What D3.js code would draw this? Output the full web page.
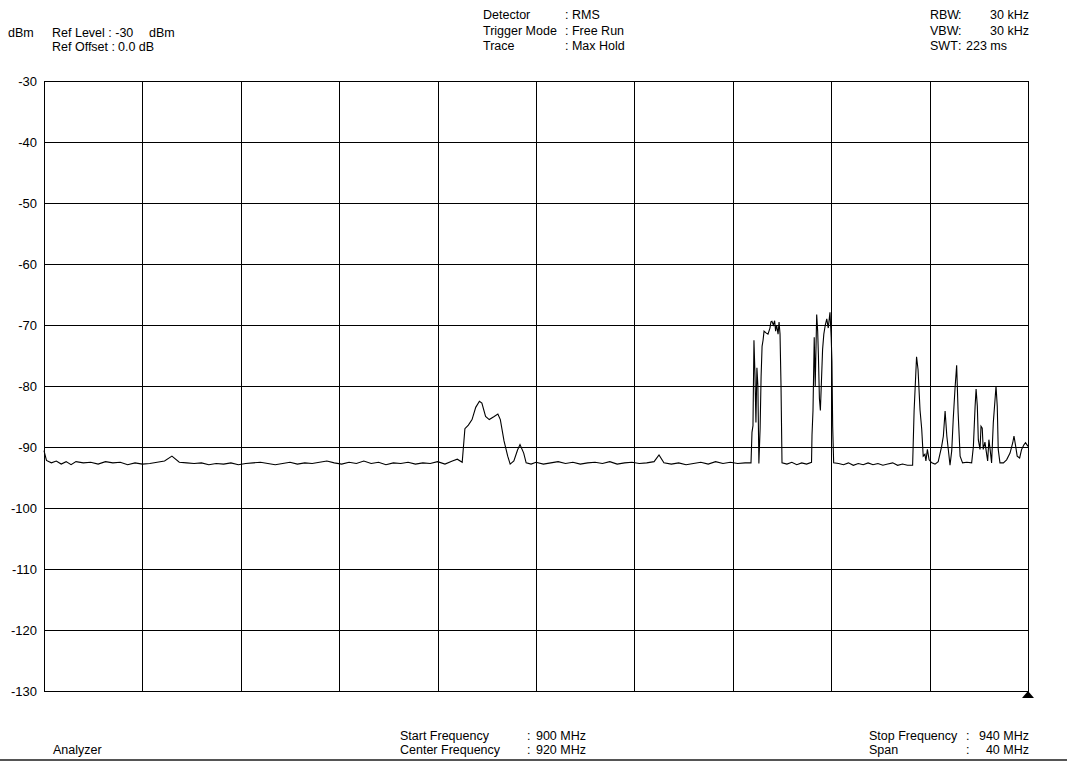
<!DOCTYPE html>
<html>
<head>
<meta charset="utf-8">
<script src="https://cdn.jsdelivr.net/npm/d3@7"></script>
<style>
  body { margin:0; background:#fff; }
  svg text { font-family: "Liberation Sans", Arial, sans-serif; font-size:12.5px; fill:#000; }
</style>
</head>
<body>
<div id="plot"></div>
<script>
// y axis ticks (dBm) and x grid (MHz)
var levelTicks = [-30,-40,-50,-60,-70,-80,-90,-100,-110,-120,-130];
var freqTicks = [900,904,908,912,916,920,924,928,932,936,940];

// max hold trace: frequency (MHz) / level (dBm)
var freqMHz = [
  900.00,900.10,900.30,900.50,900.70,900.90,901.10,901.30,901.60,901.90,
  902.20,902.50,902.80,903.10,903.40,903.70,904.00,904.30,904.60,904.90,
  905.20,905.50,905.80,906.10,906.40,906.70,907.00,907.30,907.60,907.90,
  908.20,908.50,908.80,909.10,909.40,909.70,910.00,910.30,910.60,910.90,
  911.20,911.50,911.80,912.10,912.40,912.70,913.00,913.30,913.60,913.90,
  914.20,914.50,914.80,915.10,915.40,915.70,916.00,916.30,916.60,916.80,
  917.00,917.11,917.25,917.40,917.55,917.70,917.80,917.95,918.10,918.30,
  918.45,918.55,918.70,918.85,918.95,919.10,919.25,919.35,919.50,919.60,
  919.80,920.00,920.30,920.60,920.90,921.20,921.50,921.80,922.10,922.40,
  922.70,923.00,923.30,923.60,923.90,924.20,924.50,924.80,925.00,925.20,
  925.50,925.80,926.10,926.40,926.70,927.00,927.30,927.60,927.90,928.20,
  928.50,928.74,928.78,928.82,928.86,928.90,928.94,928.98,929.02,929.06,
  929.11,929.15,929.19,929.23,929.27,929.35,929.43,929.51,929.55,929.59,
  929.65,929.70,929.74,929.78,929.84,929.88,929.92,929.96,930.00,930.20,
  930.40,930.60,930.80,931.00,931.20,931.22,931.26,931.31,931.35,931.41,
  931.45,931.48,931.52,931.56,931.61,931.65,931.70,931.76,931.82,931.88,
  931.95,932.00,932.03,932.06,932.10,932.30,932.50,932.70,932.90,933.10,
  933.30,933.50,933.70,933.90,934.10,934.30,934.50,934.70,934.90,935.10,
  935.31,935.37,935.47,935.53,935.61,935.68,935.74,935.81,935.85,935.91,
  935.98,936.09,936.22,936.35,936.49,936.56,936.63,936.70,936.76,936.83,
  936.90,936.96,937.03,937.10,937.16,937.24,937.34,937.51,937.71,937.78,
  937.85,937.89,937.94,937.98,938.05,938.09,938.14,938.18,938.25,938.32,
  938.36,938.41,938.46,938.52,938.59,938.66,938.70,938.75,938.79,938.86,
  939.00,939.13,939.27,939.38,939.43,939.50,939.56,939.66,939.74,939.84,
  939.90,940.00
];
var levelDbm = [
  -90.6,-92.2,-92.6,-92.3,-92.8,-92.4,-92.9,-92.4,-92.6,-92.5,
  -92.8,-92.4,-92.6,-92.5,-92.9,-92.6,-92.8,-92.7,-92.5,-92.3,
  -91.5,-92.5,-92.6,-92.7,-92.6,-92.9,-92.7,-92.8,-92.6,-92.9,
  -92.7,-92.6,-92.5,-92.7,-92.9,-92.7,-92.5,-92.8,-92.6,-92.7,
  -92.5,-92.3,-92.6,-92.8,-92.5,-92.7,-92.3,-92.7,-92.5,-92.9,
  -92.6,-92.7,-92.5,-92.8,-92.6,-92.7,-92.4,-92.8,-92.3,-92.0,
  -92.5,-87.0,-86.4,-85.5,-83.5,-82.5,-82.8,-85.0,-85.5,-85.0,
  -84.6,-85.5,-89.0,-91.5,-92.8,-92.3,-90.5,-89.6,-91.0,-92.6,
  -92.8,-92.5,-92.8,-92.6,-92.4,-92.7,-92.5,-92.8,-92.6,-92.5,
  -92.7,-92.4,-92.8,-92.6,-92.5,-92.7,-92.6,-92.4,-91.3,-92.6,
  -92.8,-92.6,-92.9,-92.7,-92.5,-92.8,-92.4,-92.7,-92.5,-92.7,
  -92.6,-92.6,-87.6,-86.5,-72.5,-78.0,-86.0,-77.0,-80.0,-92.7,
  -87.0,-78.5,-73.5,-72.5,-71.0,-71.3,-71.5,-70.5,-69.5,-69.4,
  -70.0,-69.3,-71.0,-70.0,-71.5,-69.5,-71.5,-80.0,-92.6,-92.8,
  -92.5,-92.9,-92.6,-92.8,-92.5,-88.0,-84.0,-72.0,-80.0,-68.3,
  -71.0,-75.0,-82.0,-84.0,-78.5,-74.0,-71.5,-70.0,-69.0,-70.5,
  -67.9,-72.0,-76.0,-86.6,-92.6,-92.7,-92.9,-92.6,-93.0,-92.7,
  -92.9,-92.6,-92.9,-92.7,-93.0,-92.8,-92.6,-93.0,-92.8,-93.0,
  -93.0,-84.1,-75.2,-77.3,-83.9,-87.1,-91.5,-91.2,-92.3,-90.4,
  -92.1,-92.6,-92.8,-92.4,-89.9,-88.2,-84.1,-88.2,-90.4,-93.0,
  -90.6,-85.5,-80.6,-76.6,-84.4,-91.5,-92.6,-92.5,-92.6,-89.9,
  -83.3,-80.5,-83.3,-88.8,-90.4,-86.6,-86.9,-90.4,-89.2,-91.2,
  -92.3,-88.8,-90.4,-92.6,-86.0,-82.2,-80.0,-83.3,-90.4,-92.6,
  -92.6,-92.1,-91.0,-89.3,-88.2,-89.9,-91.5,-91.8,-90.4,-89.6,
  -89.3,-89.9
];

// instrument settings shown around the grid
var headerMid = [["Detector", "RMS"], ["Trigger Mode", "Free Run"], ["Trace", "Max Hold"]];
var headerRight = [["RBW", "30 kHz"], ["VBW", "30 kHz"], ["SWT", "223 ms"]];
var footerMid = [["Start Frequency", "900 MHz"], ["Center Frequency", "920 MHz"]];
var footerRight = [["Stop Frequency", "940 MHz"], ["Span", "40 MHz"]];

var W = 1067, H = 764;
var margin = {t:81, r:39, b:73, l:44};
var width = W - margin.l - margin.r,
    height = H - margin.t - margin.b;

var svg = d3.select('#plot').append('svg')
    .attr('width', W).attr('height', H);

var x = d3.scaleLinear().domain([900,940]).range([0,width]);
var y = d3.scaleLinear().domain([-130,-30]).range([height,0]);

var plot = svg.append('g')
    .attr('transform','translate('+margin.l+','+margin.t+')');

// horizontal grid + dBm labels (plain hyphen like the analyzer)
var yAxis = plot.append('g')
    .call(d3.axisLeft(y).tickValues(levelTicks).tickSize(-width).tickPadding(7)
      .tickFormat(function(d){ return String(d); }));
yAxis.select('.domain').remove();
yAxis.selectAll('line').attr('stroke','#000').attr('shape-rendering','crispEdges');
yAxis.selectAll('text').attr('fill','#000')
    .style('font-family','"Liberation Sans", Arial, sans-serif').style('font-size','13px');

// vertical grid
var xAxis = plot.append('g')
    .attr('transform','translate(0,'+height+')')
    .call(d3.axisBottom(x).tickValues(freqTicks).tickSize(-height).tickFormat(''));
xAxis.select('.domain').remove();
xAxis.selectAll('line').attr('stroke','#000').attr('shape-rendering','crispEdges');

plot.append('rect')
    .attr('width', width).attr('height', height)
    .attr('fill','none').attr('stroke','#000').attr('shape-rendering','crispEdges');

// trace
var trace = freqMHz.map(function(f,i){ return [f, levelDbm[i]]; });
plot.append('path')
    .datum(trace)
    .attr('fill','none')
    .attr('stroke','#000')
    .attr('stroke-width',1.1)
    .attr('d', d3.line().x(function(d){return x(d[0]);}).y(function(d){return y(d[1]);}));

// marker at stop frequency
plot.append('path')
    .attr('d','M'+x(940)+','+height+' l-6,7 h12 z')
    .attr('fill','#000');

// header
svg.append('text').attr('x',8).attr('y',37).text('dBm');
svg.append('text').attr('x',52).attr('y',37).text('Ref Level : -30');
svg.append('text').attr('x',149).attr('y',37).text('dBm');
svg.append('text').attr('x',52).attr('y',51).text('Ref Offset :');
svg.append('text').attr('x',118).attr('y',51).text('0.0 dB');

headerMid.forEach(function(r,i){
  var yy = 19 + i*15.5;
  svg.append('text').attr('x',483).attr('y',yy).text(r[0]);
  svg.append('text').attr('x',565).attr('y',yy).text(': '+r[1]);
});
headerRight.forEach(function(r,i){
  var yy = 19 + i*15.5;
  svg.append('text').attr('x',930).attr('y',yy).text(r[0]);
  svg.append('text').attr('x',958).attr('y',yy).text(':');
  if (i < 2) svg.append('text').attr('x',1029).attr('y',yy).attr('text-anchor','end').text(r[1]);
  else svg.append('text').attr('x',966).attr('y',yy).text(r[1]);
});

// footer
svg.append('text').attr('x',53).attr('y',754).text('Analyzer');
footerMid.forEach(function(r,i){
  var yy = 740 + i*14;
  svg.append('text').attr('x',400).attr('y',yy).text(r[0]);
  svg.append('text').attr('x',527).attr('y',yy).text(':');
  svg.append('text').attr('x',586).attr('y',yy).attr('text-anchor','end').text(r[1]);
});
footerRight.forEach(function(r,i){
  var yy = 740 + i*14;
  svg.append('text').attr('x',869).attr('y',yy).text(r[0]);
  svg.append('text').attr('x',966).attr('y',yy).text(':');
  svg.append('text').attr('x',1029).attr('y',yy).attr('text-anchor','end').text(r[1]);
});

svg.append('line')
    .attr('x1',0).attr('x2',W).attr('y1',760).attr('y2',760)
    .attr('stroke','#555').attr('stroke-width',2);
</script>
</body>
</html>
